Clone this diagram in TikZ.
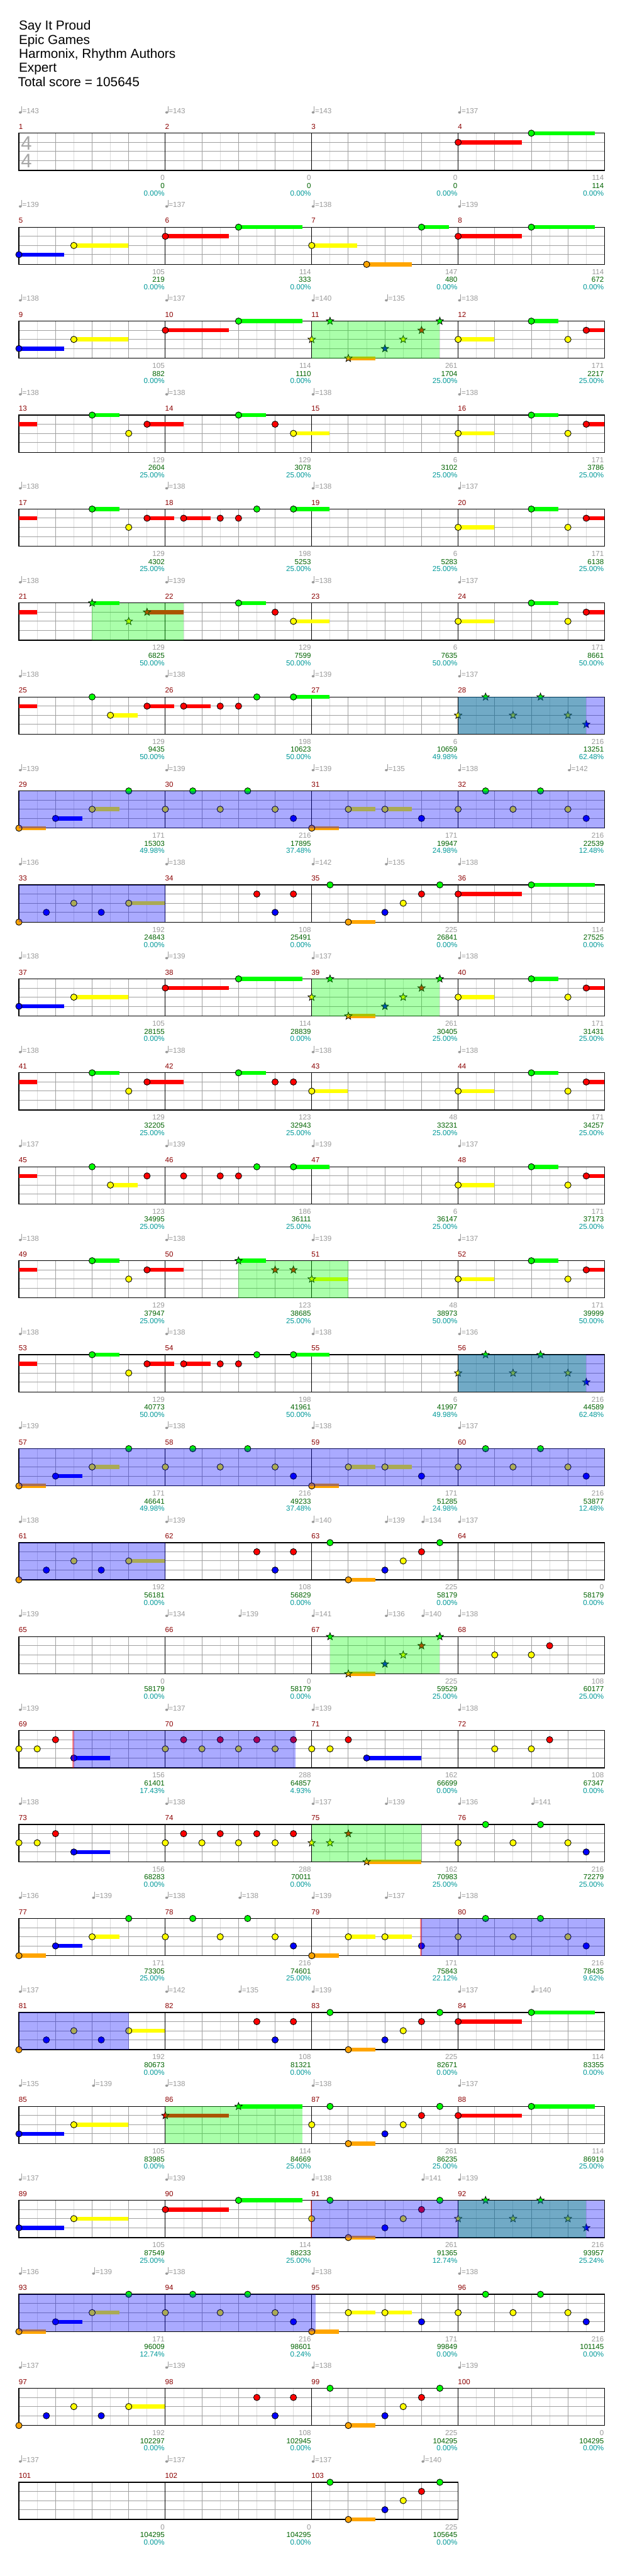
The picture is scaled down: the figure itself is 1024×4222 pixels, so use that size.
\documentclass[tikz,border=0pt]{standalone}
\usepackage{fontspec}
\setmainfont{Liberation Sans}
\definecolor{lane0}{HTML}{00FF00}
\definecolor{lane1}{HTML}{FF0000}
\definecolor{lane2}{HTML}{FFFF00}
\definecolor{lane3}{HTML}{0000FF}
\definecolor{lane4}{HTML}{FFA500}
\definecolor{tgray}{HTML}{9A9A9A}
\definecolor{gline}{HTML}{A0A0A0}
\definecolor{lline}{HTML}{DCDCDC}
\definecolor{mnred}{HTML}{8B0000}
\definecolor{scgreen}{HTML}{006400}
\definecolor{sccyan}{HTML}{009999}
\definecolor{sigray}{HTML}{A8A8A8}
\newcommand\Pos[3]{%
  \ifcase#3 \def\lo{0}\or\def\lo{15}\or\def\lo{30}\or\def\lo{45}\else\def\lo{61}\fi
  \pgfmathsetmacro\nx{31+240*mod(#1-1,4)+60*(#2)}%
  \pgfmathsetmacro\ny{218.3+154*floor((#1-1)/4)+\lo}}
\newcommand\Nt[4]{\Pos{#1}{#2}{#3}%
  \ifdim#4pt>0pt \fill[lane#3] (\nx,\ny-3.35) rectangle (\nx+60*#4-0.5,\ny+3.35);\fi
  \filldraw[fill=lane#3,draw=black,line width=0.9] (\nx,\ny) circle (5.2);}
\newcommand\St[4]{\Pos{#1}{#2}{#3}%
  \ifdim#4pt>0pt \fill[lane#3] (\nx,\ny-3.35) rectangle (\nx+60*#4-0.5,\ny+3.35);\fi
  \filldraw[fill=lane#3,draw=black,line width=0.8,shift={(\nx,\ny)}] (-90:6.4)--(-54:2.7)--(-18:6.4)--(18:2.7)--(54:6.4)--(90:2.7)--(126:6.4)--(162:2.7)--(198:6.4)--(234:2.7)--cycle;}
\newcommand\Sus[4]{\Pos{#1}{#2}{#3}\fill[lane#3] (\nx,\ny-3.35) rectangle (\nx+60*#4,\ny+3.35);}
\newcommand\Rg[4]{\Pos{#2}{#3}{0}\fill[#1,opacity=0.3333] (\nx,\ny) rectangle (\nx+60*#4,\ny+61);}
\newcommand\Pk[2]{\Pos{#1}{#2}{0}\draw[red,opacity=0.45,line width=2.5] (\nx-1,\ny) -- (\nx-1,\ny+61);}
\newcommand\PA[1]{\Nt{#1}{0}{2}{1}\Nt{#1}{2}{0}{0.75}\Nt{#1}{3}{2}{0}\Nt{#1}{3.5}{1}{0.5}}
\newcommand\PC[2]{#2{#1}{0}{2}{0}#2{#1}{0.75}{0}{0}#2{#1}{1.5}{2}{0}#2{#1}{2.25}{0}{0}#2{#1}{3}{2}{0}#2{#1}{3.5}{3}{0}}
\newcommand\PD[1]{\Nt{#1}{0}{4}{0.75}\Nt{#1}{1}{3}{0.75}\Nt{#1}{2}{2}{0.75}\Nt{#1}{3}{0}{0}}
\newcommand\PE[1]{\Nt{#1}{0}{4}{0.75}\Nt{#1}{1}{2}{0.75}\Nt{#1}{2}{2}{0.75}\Nt{#1}{3}{3}{0}}
\newcommand\PF[1]{\Nt{#1}{0}{4}{0}\Nt{#1}{0.75}{3}{0}\Nt{#1}{1.5}{2}{0}\Nt{#1}{2.25}{3}{0}\Nt{#1}{3}{2}{1}}
\newcommand\PG[1]{\Nt{#1}{2.5}{1}{0}\Nt{#1}{3}{3}{0}\Nt{#1}{3.5}{1}{0}}
\newcommand\PH[2]{#2{#1}{0.5}{0}{0}#2{#1}{1}{4}{0.75}#2{#1}{2}{3}{0}#2{#1}{2.5}{2}{0}#2{#1}{3}{1}{0}#2{#1}{3.5}{0}{0}}
\newcommand\PI[2]{#2{#1}{0}{1}{1.75}#2{#1}{2}{0}{1.75}}
\newcommand\PJ[1]{\Nt{#1}{0}{3}{1.25}\Nt{#1}{1.5}{2}{1.5}}
\newcommand\PL[1]{\Nt{#1}{0.5}{1}{0.75}\Nt{#1}{1.5}{1}{0}\Nt{#1}{2}{1}{0}\Nt{#1}{2.5}{0}{0}\Nt{#1}{3.5}{0}{1}}
\newcommand\PM[1]{\Nt{#1}{0}{2}{0}\Nt{#1}{0.5}{2}{0}\Nt{#1}{1}{1}{0}\Nt{#1}{1.5}{3}{1}}
\newcommand\PN[1]{\Nt{#1}{0}{2}{0}\Nt{#1}{0.5}{1}{0}\Nt{#1}{1}{2}{0}\Nt{#1}{1.5}{1}{0}\Nt{#1}{2}{2}{0}\Nt{#1}{2.5}{1}{0}\Nt{#1}{3}{2}{0}\Nt{#1}{3.5}{1}{0}}
\newcommand\PO[1]{\Nt{#1}{1}{2}{0}\Nt{#1}{2}{2}{0}\Nt{#1}{2.5}{1}{0}}
\begin{document}
\begin{tikzpicture}[x=1pt,y=-1pt,
  txt/.style={inner sep=0,outer sep=0,font=\fontsize{12}{14}\selectfont},
  ttl/.style={inner sep=0,outer sep=0,anchor=base west,font=\fontsize{21.4}{24}\selectfont}]
\useasboundingbox (0,0) rectangle (1024,4222);
\fill[white] (0,0) rectangle (1024,4222);
% title
\node[ttl] (title) at (31,49.3) {Say It Proud};
\node[ttl] (artist) at (31,72.3) {Epic Games};
\node[ttl] (charter) at (31,95.3) {Harmonix, Rhythm Authors};
\node[ttl] (diff) at (31,118.3) {Expert};
\node[ttl] (total) at (29.5,141.7) {Total score = 105645};
% staves
\foreach \r in {0,...,25}{
  \ifnum\r=25 \def\nm{3}\else\def\nm{4}\fi
  \pgfmathsetmacro\yt{218.3+154*\r}
  \pgfmathsetmacro\xe{31+240*\nm}
  \pgfmathtruncatemacro\nb{4*\nm-1}
  \pgfmathtruncatemacro\nmm{\nm-1}
  \foreach \i in {0,...,\nb}{\draw[lline,line width=1] (31+60*\i+30,\yt) -- ++(0,61);}
  \foreach \i in {1,...,\nb}{\draw[gline,line width=1] (31+60*\i,\yt) -- ++(0,61);}
  \foreach \k in {15,30,45}{\draw[gline,line width=1] (31,\yt+\k) -- (\xe,\yt+\k);}
  \foreach \j in {1,...,\nmm}{\draw[black,line width=1] (31+240*\j,\yt) -- ++(0,61);}
  \draw[black,line width=1.3] (31,\yt) rectangle (\xe,\yt+61);
}
\node[anchor=base west,inner sep=0,text=sigray,font=\fontsize{32}{32}\selectfont] (ts1) at (34.2,246) {4};
\node[anchor=base west,inner sep=0,text=sigray,font=\fontsize{32}{32}\selectfont] (ts2) at (34.2,275) {4};
% notes
\PI{4}\Nt
\PJ{5}\PI{6}\Nt\Nt{7}{0}{2}{1.25}\Nt{7}{1.5}{4}{1.25}\Nt{7}{3}{0}{0.75}\PI{8}\Nt
\PJ{9}\PI{10}\Nt\St{11}{0}{2}{0}\PH{11}\St\PA{12}
\Sus{13}{0}{1}{0.5}\Nt{13}{2}{0}{0.75}\Nt{13}{3}{2}{0}\Nt{13}{3.5}{1}{1}
\Nt{14}{2}{0}{0.75}\Nt{14}{3}{1}{0}\Nt{14}{3.5}{2}{1}\PA{16}
\Sus{17}{0}{1}{0.5}\Nt{17}{2}{0}{0.75}\Nt{17}{3}{2}{0}\Nt{17}{3.5}{1}{0.75}\PL{18}\PA{20}
\Sus{21}{0}{1}{0.5}\St{21}{2}{0}{0.75}\St{21}{3}{2}{0}\St{21}{3.5}{1}{1}
\Nt{22}{2}{0}{0.75}\Nt{22}{3}{1}{0}\Nt{22}{3.5}{2}{1}\PA{24}
\Sus{25}{0}{1}{0.5}\Nt{25}{2}{0}{0}\Nt{25}{2.5}{2}{0.75}\Nt{25}{3.5}{1}{0.75}\PL{26}\PC{28}\St
\PD{29}\PC{30}\Nt\PE{31}\PC{32}\Nt
\PF{33}\PG{34}\PH{35}\Nt\PI{36}\Nt
\PJ{37}\PI{38}\Nt\St{39}{0}{2}{0}\PH{39}\St\PA{40}
\Sus{41}{0}{1}{0.5}\Nt{41}{2}{0}{0.75}\Nt{41}{3}{2}{0}\Nt{41}{3.5}{1}{1}
\Nt{42}{2}{0}{0.75}\Nt{42}{3}{1}{0}\Nt{42}{3.5}{1}{0}\Nt{43}{0}{2}{1}\PA{44}
\Sus{45}{0}{1}{0.5}\Nt{45}{2}{0}{0}\Nt{45}{2.5}{2}{0.75}\Nt{45}{3.5}{1}{0}
\Nt{46}{0.5}{1}{0}\Nt{46}{1.5}{1}{0}\Nt{46}{2}{1}{0}\Nt{46}{2.5}{0}{0}\Nt{46}{3.5}{0}{1}\PA{48}
\Sus{49}{0}{1}{0.5}\Nt{49}{2}{0}{0.75}\Nt{49}{3}{2}{0}\Nt{49}{3.5}{1}{1}
\St{50}{2}{0}{0.75}\St{50}{3}{1}{0}\St{50}{3.5}{1}{0}\St{51}{0}{2}{1}\PA{52}
\Sus{53}{0}{1}{0.5}\Nt{53}{2}{0}{0.75}\Nt{53}{3}{2}{0}\Nt{53}{3.5}{1}{0.75}\PL{54}\PC{56}\St
\PD{57}\PC{58}\Nt\PE{59}\PC{60}\Nt
\PF{61}\PG{62}\PH{63}\Nt
\PH{67}\St\PO{68}
\PM{69}\PN{70}\Nt{71}{0}{2}{0}\Nt{71}{0.5}{2}{0}\Nt{71}{1}{1}{0}\Nt{71}{1.5}{3}{1.5}\PO{72}
\PM{73}\PN{74}\St{75}{0}{2}{0}\St{75}{0.5}{2}{0}\St{75}{1}{1}{0}\St{75}{1.5}{4}{1.5}\PC{76}\Nt
\PD{77}\PC{78}\Nt\PE{79}\PC{80}\Nt
\PF{81}\PG{82}\PH{83}\Nt\PI{84}\Nt
\PJ{85}\PI{86}\St\Nt{87}{0}{2}{0}\PH{87}\Nt\PI{88}\Nt
\PJ{89}\PI{90}\Nt\Nt{91}{0}{2}{0}\PH{91}\Nt\PC{92}\St
\PD{93}\PC{94}\Nt\PE{95}\PC{96}\Nt
\PF{97}\PG{98}\PH{99}\Nt
\PH{103}\Nt
% star power and overdrive regions
\Rg{lane0}{11}{0}{3.5}
\Rg{lane0}{21}{2}{2.5}
\Rg{lane0}{28}{0}{3.5}\Rg{lane3}{28}{0}{4}
\Rg{lane3}{29}{0}{16}
\Rg{lane3}{33}{0}{4}
\Rg{lane0}{39}{0}{3.5}
\Rg{lane0}{50}{2}{3}
\Rg{lane0}{56}{0}{3.5}\Rg{lane3}{56}{0}{4}
\Rg{lane3}{57}{0}{16}
\Rg{lane3}{61}{0}{4}
\Rg{lane0}{67}{0.5}{3}
\Pk{69}{1.5}\Rg{lane3}{69}{1.5}{6.05}
\Rg{lane0}{75}{0}{3}
\Pk{79}{3}\Rg{lane3}{79}{3}{5}
\Rg{lane3}{81}{0}{3}
\Rg{lane0}{86}{0}{3.75}
\Rg{lane0}{92}{0}{3.5}\Pk{91}{0}\Rg{lane3}{91}{0}{8}
\Rg{lane3}{93}{0}{8.1}
% measure numbers
\foreach \m in {1,...,103}{
  \pgfmathsetmacro\qx{31+240*mod(\m-1,4)}
  \pgfmathsetmacro\qy{218.3+154*floor((\m-1)/4)-6.6}
  \node[txt,anchor=base west,text=mnred] (mn\m) at (\qx-0.3,\qy) {\m};
}
% tempos
\foreach \qm/\qt/\qv in {1/0/143,2/0/143,3/0/143,4/0/137,
 5/0/139,6/0/137,7/0/138,8/0/139,
 9/0/138,10/0/137,11/0/140,11/2/135,12/0/138,
 13/0/138,14/0/138,15/0/138,16/0/138,
 17/0/138,18/0/138,19/0/138,20/0/137,
 21/0/138,22/0/139,23/0/138,24/0/137,
 25/0/138,26/0/138,27/0/139,28/0/137,
 29/0/139,30/0/139,31/0/139,31/2/135,32/0/138,32/3/142,
 33/0/136,34/0/138,35/0/142,35/2/135,36/0/138,
 37/0/138,38/0/139,39/0/137,40/0/138,
 41/0/138,42/0/138,43/0/138,44/0/138,
 45/0/137,46/0/139,47/0/139,48/0/137,
 49/0/138,50/0/138,51/0/139,52/0/137,
 53/0/138,54/0/138,55/0/138,56/0/136,
 57/0/139,58/0/138,59/0/138,60/0/137,
 61/0/138,62/0/139,63/0/140,63/2/139,63/3/134,64/0/137,
 65/0/139,66/0/134,66/2/139,67/0/141,67/2/136,67/3/140,68/0/138,
 69/0/139,70/0/137,71/0/139,72/0/138,
 73/0/138,74/0/138,75/0/137,75/2/139,76/0/136,76/2/141,
 77/0/136,77/2/139,78/0/138,78/2/138,79/0/139,79/2/137,80/0/138,
 81/0/137,82/0/142,82/2/135,83/0/139,84/0/137,84/2/140,
 85/0/135,85/2/139,86/0/138,87/0/138,88/0/137,
 89/0/137,90/0/139,91/0/138,91/3/141,92/0/139,
 93/0/136,93/2/139,94/0/138,95/0/138,96/0/138,
 97/0/137,98/0/139,99/0/138,100/0/139,
 101/0/137,102/0/137,103/0/137,103/3/140}{
  \pgfmathsetmacro\tx{31+240*mod(\qm-1,4)+60*\qt}
  \pgfmathsetmacro\ty{218.3+154*floor((\qm-1)/4)}
  \fill[tgray] (\tx+2.3,\ty-34) ellipse (2.4 and 1.9);
  \draw[tgray,line width=0.9] (\tx+4.3,\ty-34.3) -- (\tx+4.3,\ty-44.3);
  \node[txt,anchor=base west,text=tgray] (tp\qm\qt) at (\tx+5.6,\ty-32.6) {=\qv};
}
% scores
\foreach \m/\pa/\pb/\pc in {1/0/0/0.00,2/0/0/0.00,3/0/0/0.00,4/114/114/0.00,
 5/105/219/0.00,6/114/333/0.00,7/147/480/0.00,8/114/672/0.00,
 9/105/882/0.00,10/114/1110/0.00,11/261/1704/25.00,12/171/2217/25.00,
 13/129/2604/25.00,14/129/3078/25.00,15/6/3102/25.00,16/171/3786/25.00,
 17/129/4302/25.00,18/198/5253/25.00,19/6/5283/25.00,20/171/6138/25.00,
 21/129/6825/50.00,22/129/7599/50.00,23/6/7635/50.00,24/171/8661/50.00,
 25/129/9435/50.00,26/198/10623/50.00,27/6/10659/49.98,28/216/13251/62.48,
 29/171/15303/49.98,30/216/17895/37.48,31/171/19947/24.98,32/216/22539/12.48,
 33/192/24843/0.00,34/108/25491/0.00,35/225/26841/0.00,36/114/27525/0.00,
 37/105/28155/0.00,38/114/28839/0.00,39/261/30405/25.00,40/171/31431/25.00,
 41/129/32205/25.00,42/123/32943/25.00,43/48/33231/25.00,44/171/34257/25.00,
 45/123/34995/25.00,46/186/36111/25.00,47/6/36147/25.00,48/171/37173/25.00,
 49/129/37947/25.00,50/123/38685/25.00,51/48/38973/50.00,52/171/39999/50.00,
 53/129/40773/50.00,54/198/41961/50.00,55/6/41997/49.98,56/216/44589/62.48,
 57/171/46641/49.98,58/216/49233/37.48,59/171/51285/24.98,60/216/53877/12.48,
 61/192/56181/0.00,62/108/56829/0.00,63/225/58179/0.00,64/0/58179/0.00,
 65/0/58179/0.00,66/0/58179/0.00,67/225/59529/25.00,68/108/60177/25.00,
 69/156/61401/17.43,70/288/64857/4.93,71/162/66699/0.00,72/108/67347/0.00,
 73/156/68283/0.00,74/288/70011/0.00,75/162/70983/25.00,76/216/72279/25.00,
 77/171/73305/25.00,78/216/74601/25.00,79/171/75843/22.12,80/216/78435/9.62,
 81/192/80673/0.00,82/108/81321/0.00,83/225/82671/0.00,84/114/83355/0.00,
 85/105/83985/0.00,86/114/84669/25.00,87/261/86235/25.00,88/114/86919/25.00,
 89/105/87549/25.00,90/114/88233/25.00,91/261/91365/12.74,92/216/93957/25.24,
 93/171/96009/12.74,94/216/98601/0.24,95/171/99849/0.00,96/216/101145/0.00,
 97/192/102297/0.00,98/108/102945/0.00,99/225/104295/0.00,100/0/104295/0.00,
 101/0/104295/0.00,102/0/104295/0.00,103/225/105645/0.00}{
  \pgfmathsetmacro\qx{31+240*(mod(\m-1,4)+1)-1.2}
  \pgfmathsetmacro\qy{218.3+154*floor((\m-1)/4)}
  \node[txt,anchor=base east,text=tgray] (sa\m) at (\qx,\qy+77.4) {\pa};
  \node[txt,anchor=base east,text=scgreen] (sb\m) at (\qx,\qy+90.4) {\pb};
  \node[txt,anchor=base east,text=sccyan] (sc\m) at (\qx,\qy+102.4) {\pc\%};
}
\end{tikzpicture}
\end{document}
